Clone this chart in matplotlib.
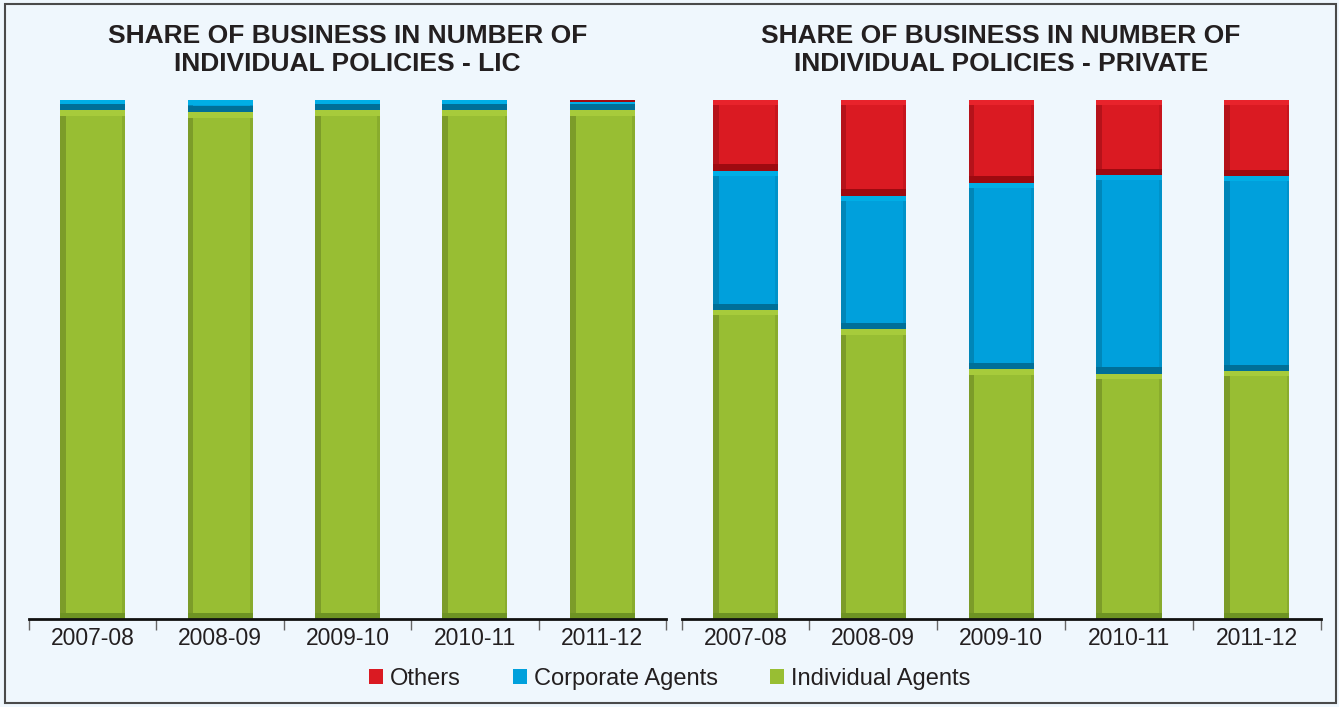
"""Share of business in number of individual policies: LIC vs private insurers, 100% stacked bars."""
import matplotlib
matplotlib.use("Agg")
import matplotlib.pyplot as plt
from matplotlib.patches import Rectangle
import numpy as np

years = ["2007-08", "2008-09", "2009-10", "2010-11", "2011-12"]

# shares in percent
lic_individual = [98.0, 97.6, 98.0, 98.0, 98.0]
lic_corporate = [2.0, 2.4, 2.0, 2.0, 1.7]
lic_others = [0.0, 0.0, 0.0, 0.0, 0.3]

pvt_individual = [59.5, 55.8, 48.1, 47.3, 47.8]
pvt_corporate = [26.9, 25.8, 36.0, 38.2, 37.6]
pvt_others = [13.6, 18.4, 15.9, 14.5, 14.6]

series_names = ["Individual Agents", "Corporate Agents", "Others"]
face = ["#98BE33", "#00A0DC", "#DA1A22"]
light = ["#A7CB3B", "#00AEE6", "#E8232B"]
side = ["#7C9C29", "#0086B8", "#B5121A"]
shade = ["#6E9323", "#006F98", "#9E0A10"]
BG = "#EFF7FD"
TXT = "#231F20"

plt.rcParams["font.family"] = ["Liberation Sans", "DejaVu Sans"]

fig = plt.figure(figsize=(13.39, 7.07), dpi=100, facecolor=BG)
fig.patches.append(Rectangle((0.004, 0.006), 0.994, 0.988, transform=fig.transFigure,
                             fill=False, edgecolor="#4a4a4a", linewidth=1.5))

ax_l = fig.add_axes([0.0217, 0.1245, 0.4757, 0.734])
ax_r = fig.add_axes([0.509, 0.1245, 0.4774, 0.734])


def draw_panel(ax, parts, title):
    ax.set_facecolor(BG)
    x = np.arange(len(years))
    w = 0.51
    sw = 0.045  # side bevel width
    bottom = np.zeros(len(years))
    for i, vals in enumerate(parts):
        vals = np.asarray(vals, dtype=float)
        ax.bar(x, vals, w, bottom=bottom, color=face[i], linewidth=0,
               label=series_names[i], zorder=2)
        # bevel look: dark left side, slightly dark right side, light top, dark bottom
        ax.bar(x - w / 2 + sw / 2, vals, sw, bottom=bottom, color=side[i],
               linewidth=0, zorder=3)
        ax.bar(x + w / 2 - sw / 4, vals, sw / 2, bottom=bottom, color=side[i],
               alpha=0.5, linewidth=0, zorder=3)
        ax.bar(x, np.minimum(vals, 1.0), w, bottom=bottom + vals - np.minimum(vals, 1.0),
               color=light[i], linewidth=0, zorder=3)
        ax.bar(x, np.minimum(vals, 1.2), w, bottom=bottom, color=shade[i],
               linewidth=0, zorder=4)
        bottom = bottom + vals
    ax.set_xlim(-0.5, len(years) - 0.5)
    ax.set_ylim(0, 100)
    for s in ["top", "right", "left"]:
        ax.spines[s].set_visible(False)
    ax.spines["bottom"].set_linewidth(2)
    ax.spines["bottom"].set_color("#111111")
    ax.spines["bottom"].set_zorder(5)
    ax.set_yticks([])
    ax.set_xticks(x)
    ax.set_xticklabels(years, fontsize=16.5, color=TXT)
    ax.tick_params(axis="x", which="major", length=0, pad=6)
    ax.set_xticks(np.arange(-0.5, len(years)), minor=True)
    ax.tick_params(axis="x", which="minor", length=8, width=1, color="#666666")
    ax.set_title(title, fontsize=19, fontweight="bold", color=TXT,
                 linespacing=1.2, pad=21)


draw_panel(ax_l, [lic_individual, lic_corporate, lic_others],
           "SHARE OF BUSINESS IN NUMBER OF\nINDIVIDUAL POLICIES - LIC")
draw_panel(ax_r, [pvt_individual, pvt_corporate, pvt_others],
           "SHARE OF BUSINESS IN NUMBER OF\nINDIVIDUAL POLICIES - PRIVATE")

handles, labels = ax_l.get_legend_handles_labels()
order = [2, 1, 0]
fig.legend([handles[i] for i in order], [labels[i] for i in order],
           loc="center", bbox_to_anchor=(0.5, 0.04), ncol=3, frameon=False,
           fontsize=17, handlelength=0.6, handleheight=0.6, handletextpad=0.3,
           columnspacing=2.2, labelcolor=TXT)

fig.savefig("out.png", dpi=100, facecolor=BG)
